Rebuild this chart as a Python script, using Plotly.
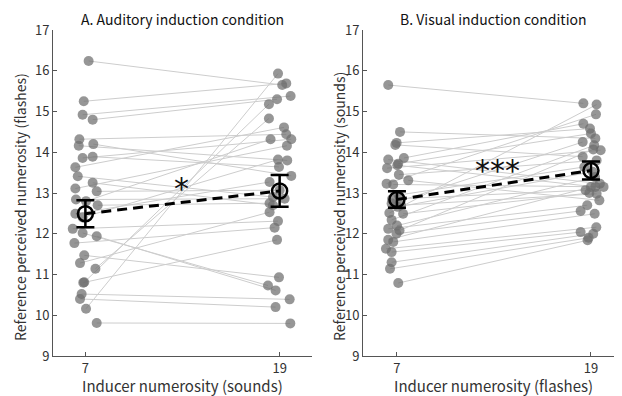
import plotly.graph_objects as go

# ---------------- data ----------------
conditions = [7, 19]
tick_vals_x = [7, 19]
tick_vals_y = [9, 10, 11, 12, 13, 14, 15, 16, 17]

# Panel A (auditory induction): per-participant values at 7 and 19 sounds
a_pre = [16.24, 15.25, 14.92, 14.80, 14.32, 14.20, 14.16, 13.86, 13.89, 13.63, 13.41, 13.25,
         13.11, 13.04, 12.84, 12.80, 12.70, 12.49, 12.40, 12.12, 12.02, 11.94, 11.77, 11.47,
         11.28, 11.14, 10.81, 10.80, 10.52, 10.40, 10.16, 9.81]
a_post = [15.65, 15.69, 15.38, 15.30, 14.44, 13.42, 13.80, 14.32, 13.64, 14.61, 12.90, 12.70,
          14.16, 13.07, 12.86, 14.32, 12.75, 13.27, 13.82, 12.31, 10.73, 10.61, 12.15, 10.93,
          12.53, 14.83, 15.18, 11.85, 10.39, 10.20, 15.93, 9.80]
a_pre_jitter = [0.2, -0.1, -0.17, 0.45, -0.37, 0.49, -0.41, -0.17, 0.45, -0.62, -0.47, 0.45,
                -0.62, 0.70, -0.58, 0.04, 0.76, -0.62, -0.17, -0.78, -0.17, 0.70, -0.68, -0.07,
                -0.33, 0.62, -0.07, -0.13, -0.23, -0.33, 0.04, 0.70]
a_post_jitter = [0.16, 0.41, 0.68, -0.16, 0.41, 0.72, 0.47, 0.72, -0.04, 0.27, -0.41, -0.41,
                 0.45, 0.0, 0.31, -0.56, -0.62, -0.62, -0.1, -0.1, -0.72, -0.25, -0.31, -0.04,
                 -0.62, -0.66, -0.66, -0.16, 0.62, -0.25, -0.1, 0.66]
a_mean = [12.49, 13.05]
a_sem = [0.33, 0.39]

# Panel B (visual induction): per-participant values at 7 and 19 flashes
b_pre = [15.65, 14.50, 14.23, 14.18, 13.86, 13.82, 13.72, 13.68, 13.61, 13.45, 13.31, 13.23,
         13.21, 12.95, 12.85, 12.74, 12.70, 12.66, 12.51, 12.49, 12.34, 12.20, 12.12, 12.08,
         12.00, 11.85, 11.80, 11.63, 11.55, 11.30, 11.14, 10.79]
b_post = [15.20, 14.34, 14.58, 13.89, 14.70, 13.23, 14.46, 13.15, 14.05, 13.80, 12.82, 14.93,
          13.15, 13.64, 13.07, 14.25, 12.98, 13.52, 15.17, 13.00, 14.17, 13.39, 12.70, 14.07,
          12.56, 13.15, 12.49, 12.16, 12.04, 12.00, 11.90, 11.84]
b_pre_jitter = [-0.54, 0.19, -0.02, -0.10, 0.43, -0.54, 0.08, 0.02, -0.61, 0.12, 0.70, -0.64,
                -0.23, 0.10, -0.30, -0.33, 0.25, 0.05, -0.47, 0.38, -0.33, 0.00, -0.54, 0.16,
                -0.03, -0.54, -0.23, -0.68, -0.33, -0.33, -0.43, 0.08]
b_post_jitter = [-0.47, 0.27, -0.06, -0.51, -0.47, 0.55, 0.0, 0.27, 0.60, 0.35, 0.52, 0.31,
                 0.78, -0.41, -0.33, -0.51, 0.35, 0.10, 0.35, -0.10, 0.20, 0.25, -0.23, 0.14,
                 -0.64, 0.00, 0.23, 0.33, -0.64, 0.14, -0.15, -0.21]
b_mean = [12.84, 13.55]
b_sem = [0.20, 0.22]

titles = ["A. Auditory induction condition", "B. Visual induction condition"]
x_titles = ["Inducer numerosity (sounds)", "Inducer numerosity (flashes)"]
y_titles = ["Reference perceived numerosity (flashes)", "Reference perceived numerosity (sounds)"]
sig_labels = ["*", "***"]
sig_pos = [(12.92, 13.12), (13.2, 13.55)]

# ---------------- figure ----------------
# The page body adds an 8px margin, so the figure is 8px smaller in each direction
W, H = 614, 388
FONT = "Noto Sans CJK JP"
TXT = "#333333"
fig = go.Figure()

panels = [
    (a_pre, a_post, a_pre_jitter, a_post_jitter, a_mean, a_sem, "x", "y"),
    (b_pre, b_post, b_pre_jitter, b_post_jitter, b_mean, b_sem, "x2", "y2"),
]

for pre, post, jp, jq, mean, sem, xa, ya in panels:
    lx, ly = [], []
    for v0, v1, j0, j1 in zip(pre, post, jp, jq):
        lx += [conditions[0] + j0, conditions[1] + j1, None]
        ly += [v0, v1, None]
    fig.add_trace(go.Scatter(x=lx, y=ly, mode="lines", xaxis=xa, yaxis=ya,
                             line=dict(color="#cdcdcd", width=1), hoverinfo="skip",
                             showlegend=False))
    px = [conditions[0] + j for j in jp] + [conditions[1] + j for j in jq]
    py = list(pre) + list(post)
    fig.add_trace(go.Scatter(x=px, y=py, mode="markers", xaxis=xa, yaxis=ya,
                             marker=dict(size=10, color="rgba(110,110,110,0.72)",
                                         line=dict(width=0)),
                             showlegend=False))
    fig.add_trace(go.Scatter(x=conditions, y=mean, mode="lines", xaxis=xa, yaxis=ya,
                             line=dict(color="black", width=3, dash="10px,6px"),
                             showlegend=False))
    fig.add_trace(go.Scatter(x=conditions, y=mean, mode="markers", xaxis=xa, yaxis=ya,
                             marker=dict(symbol="circle-open", size=15, color="black",
                                         line=dict(width=2.5, color="black")),
                             error_y=dict(type="data", array=sem, color="black",
                                          thickness=2.5, width=9),
                             showlegend=False))

y_dom = [40 / H, 366 / H]
axis_common = dict(showline=True, linecolor="#555555", linewidth=1, ticks="inside",
                   ticklen=4, tickcolor="#555555", showgrid=False, zeroline=False,
                   tickfont=dict(family=FONT, size=13, color=TXT), automargin=False)

fig.update_layout(
    width=W, height=H,
    margin=dict(l=0, r=0, t=0, b=0),
    paper_bgcolor="white", plot_bgcolor="white",
    xaxis=dict(domain=[45 / W, 304 / W], range=[5, 21], tickvals=tick_vals_x,
               anchor="y", **axis_common),
    yaxis=dict(domain=y_dom, range=[9, 17], tickvals=tick_vals_y, anchor="x",
               **axis_common),
    xaxis2=dict(domain=[355 / W, 1.0], range=[4.9, 20.92], tickvals=tick_vals_x,
                anchor="y2", **axis_common),
    yaxis2=dict(domain=y_dom, range=[9, 17], tickvals=tick_vals_y, anchor="x2",
                **axis_common),
)

ann = []
centers = [174.5 / W, 485 / W]
ycent = [12 / W, 331 / W]
for i in range(2):
    ann.append(dict(text=titles[i], x=centers[i], y=1 - 11 / H, xref="paper", yref="paper",
                    showarrow=False, xanchor="center", yanchor="middle",
                    font=dict(family=FONT, size=14, color="#111111")))
    ann.append(dict(text=x_titles[i], x=centers[i], y=1 - 377 / H, xref="paper",
                    yref="paper", showarrow=False, xanchor="center", yanchor="middle",
                    font=dict(family=FONT, size=15, color=TXT)))
    ann.append(dict(text=y_titles[i], x=ycent[i], y=1 - 199 / H, xref="paper",
                    yref="paper", showarrow=False, xanchor="center", yanchor="middle",
                    textangle=-90, font=dict(family=FONT, size=14, color=TXT)))
    xr = "x" if i == 0 else "x2"
    yr = "y" if i == 0 else "y2"
    ann.append(dict(text=sig_labels[i], x=sig_pos[i][0], y=sig_pos[i][1], xref=xr, yref=yr,
                    showarrow=False, xanchor="center", yanchor="middle",
                    font=dict(family="DejaVu Sans", size=30, color="#111111")))
fig.update_layout(annotations=ann)

fig.write_html("out.html")
